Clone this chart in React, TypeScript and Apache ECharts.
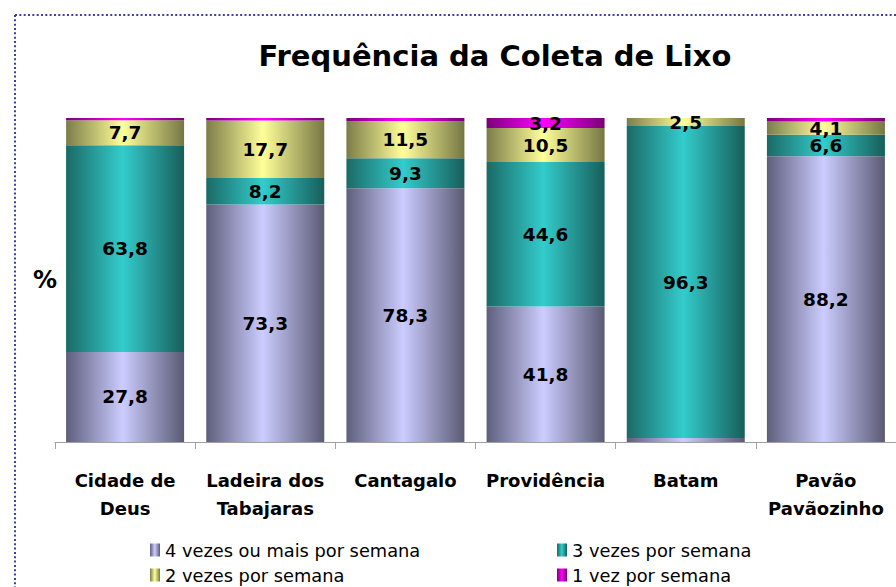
import React, { useEffect, useRef } from "react";
import * as echarts from "echarts";

const categories = ["Cidade de\nDeus", "Ladeira dos\nTabajaras", "Cantagalo", "Providência", "Batam", "Pavão\nPavãozinho"];
const seriesNames = ["4 vezes ou mais por semana", "3 vezes por semana", "2 vezes por semana", "1 vez por semana"];
const fourOrMore = [27.8, 73.3, 78.3, 41.8, 1.2, 88.2];
const threeTimes = [63.8, 8.2, 9.3, 44.6, 96.3, 6.6];
const twoTimes = [7.7, 17.7, 11.5, 10.5, 2.5, 4.1];
const oneTime = [0.7, 0.8, 0.9, 3.2, 0, 1.1];
const titleText = "Frequência da Coleta de Lixo";

const grad = (edgeL: string, center: string, edgeR: string) => ({
  type: "linear", x: 0, y: 0, x2: 1, y2: 0,
  colorStops: [
    { offset: 0, color: edgeL },
    { offset: 0.48, color: center },
    { offset: 1, color: edgeR },
  ],
});

const colors = [
  grad("#5e5e7c", "#ccccff", "#5a5a74"),
  grad("#1a6a66", "#33cccc", "#175e5a"),
  grad("#7c7c4a", "#ffff99", "#767644"),
  grad("#7a007a", "#ff00ff", "#780078"),
];

const FONT = "'DejaVu Sans', sans-serif";

export default function App() {
  const ref = useRef<HTMLDivElement>(null);
  useEffect(() => {
    if (!ref.current) return;
    const chart = echarts.init(ref.current, null, { renderer: "svg" });
    const data = [fourOrMore, threeTimes, twoTimes, oneTime];
    const legendPos = [
      { left: 150, top: 541 },
      { left: 557, top: 541 },
      { left: 150, top: 566 },
      { left: 557, top: 566 },
    ];
    chart.setOption({
      animation: false,
      title: {
        text: titleText,
        left: 490,
        top: 36,
        textAlign: "center",
        textStyle: { fontFamily: FONT, fontWeight: "bold", fontSize: 29, color: "#000" },
      },
      legend: seriesNames.map((n, i) => ({
        data: [n],
        left: legendPos[i].left,
        top: legendPos[i].top,
        padding: 0,
        itemWidth: 10,
        itemHeight: 13,
        itemGap: 5,
        icon: "rect",
        textStyle: { fontFamily: FONT, fontSize: 17.8, color: "#000" },
      })),
      grid: { left: 55, right: -1, top: 118, bottom: 145 },
      xAxis: {
        type: "category",
        data: categories,
        axisLine: { lineStyle: { color: "#a0a0a0", width: 1 } },
        axisTick: { show: true, length: 7, lineStyle: { color: "#a0a0a0" } },
        axisLabel: {
          margin: 24,
          fontFamily: FONT,
          fontWeight: "bold",
          fontSize: 18,
          lineHeight: 28,
          color: "#000",
          interval: 0,
        },
      },
      yAxis: {
        type: "value",
        min: 0,
        max: 100,
        name: "%",
        nameLocation: "middle",
        nameRotate: 0,
        nameGap: -2,
        nameTextStyle: { fontFamily: FONT, fontWeight: "bold", fontSize: 24, color: "#000", align: "right", padding: [6, 0, 0, 0] },
        axisLine: { show: false },
        axisTick: { show: false },
        axisLabel: { show: false },
        splitLine: { show: false },
      },
      series: seriesNames.map((n, i) => ({
        name: n,
        type: "bar",
        stack: "total",
        barWidth: 118,
        data: data[i],
        itemStyle: { color: colors[i] },
        label: {
          show: true,
          position: "inside",
          fontFamily: FONT,
          fontWeight: "bold",
          fontSize: 18.5,
          color: "#000",
          formatter: (p: any) => (p.value < 2 ? "" : String(p.value).replace(".", ",")),
        },
      })),
      graphic: [
        {
          type: "line",
          shape: { x1: 15, y1: 15, x2: 896, y2: 15 },
          style: { stroke: "#4040a0", lineWidth: 2, lineDash: [2, 2.33] },
        },
        {
          type: "line",
          shape: { x1: 15, y1: 15, x2: 15, y2: 587 },
          style: { stroke: "#4040a0", lineWidth: 2, lineDash: [2, 2.33] },
        },
      ],
    });
    return () => chart.dispose();
  }, []);
  return (
    <div
      ref={ref}
      style={{ position: "fixed", left: 0, top: 0, width: 896, height: 587, background: "#fff" }}
    />
  );
}
